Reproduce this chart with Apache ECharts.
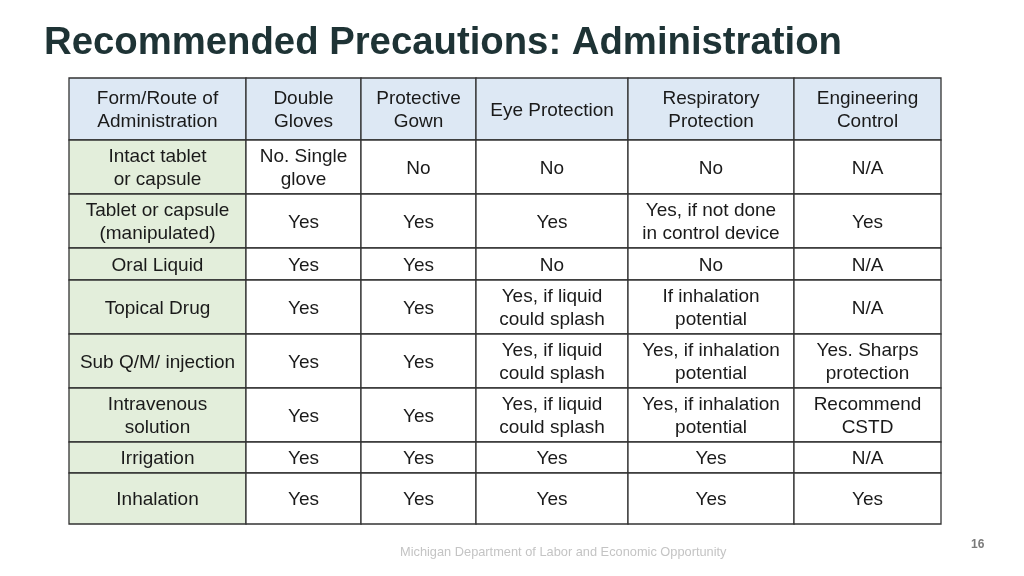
<!DOCTYPE html>
<html>
<head>
<meta charset="utf-8">
<script src="https://cdn.jsdelivr.net/npm/echarts@6/dist/echarts.min.js"></script>
<style>html,body{margin:0;padding:0;background:#fff;}#c{width:1024px;height:576px;}</style>
</head>
<body>
<div id="c"></div>
<script>
// ---- data ----
const headers = ["Form/Route of\nAdministration", "Double\nGloves", "Protective\nGown", "Eye Protection", "Respiratory\nProtection", "Engineering\nControl"];
const forms = ["Intact tablet\nor capsule", "Tablet or capsule\n(manipulated)", "Oral Liquid", "Topical Drug", "Sub Q/M/ injection", "Intravenous\nsolution", "Irrigation", "Inhalation"];
const doubleGloves = ["No. Single\nglove", "Yes", "Yes", "Yes", "Yes", "Yes", "Yes", "Yes"];
const protectiveGown = ["No", "Yes", "Yes", "Yes", "Yes", "Yes", "Yes", "Yes"];
const eyeProtection = ["No", "Yes", "No", "Yes, if liquid\ncould splash", "Yes, if liquid\ncould splash", "Yes, if liquid\ncould splash", "Yes", "Yes"];
const respiratory = ["No", "Yes, if not done\nin control device", "No", "If inhalation\npotential", "Yes, if inhalation\npotential", "Yes, if inhalation\npotential", "Yes", "Yes"];
const engineering = ["N/A", "Yes", "N/A", "N/A", "Yes. Sharps\nprotection", "Recommend\nCSTD", "N/A", "Yes"];

// ---- layout (sizes, not data) ----
const colWidths = [177, 115, 115, 152, 166, 147];
const rowHeights = [62, 54, 54, 32, 54, 54, 54, 31, 51];

const colEdges = [0]; colWidths.forEach(w => colEdges.push(colEdges[colEdges.length - 1] + w));
const rowEdges = [0]; rowHeights.forEach(h => rowEdges.push(rowEdges[rowEdges.length - 1] + h));
const totalW = colEdges[colEdges.length - 1];
const totalH = rowEdges[rowEdges.length - 1];

const columns = [forms, doubleGloves, protectiveGown, eyeProtection, respiratory, engineering];
const cells = [];
headers.forEach((h, c) => cells.push([c, 0, h]));
for (let r = 0; r < forms.length; r++) {
  for (let c = 0; c < columns.length; c++) cells.push([c, r + 1, columns[c][r]]);
}

const chart = echarts.init(document.getElementById('c'), null, { renderer: 'canvas' });
chart.setOption({
  backgroundColor: '#ffffff',
  animation: false,
  title: [{
    text: 'Recommended Precautions: Administration',
    left: 39, top: 19,
    textStyle: { fontFamily: 'Liberation Sans, Arial, sans-serif', fontWeight: 'bold', fontSize: 38.3, color: '#1e3335' }
  }, {
    text: 'Michigan Department of Labor and Economic Opportunity',
    left: 395, top: 541,
    textStyle: { fontFamily: 'Liberation Sans, Arial, sans-serif', fontWeight: 'normal', fontSize: 12.8, color: '#c4c4c4' }
  }, {
    text: '16',
    left: 966, top: 534,
    textStyle: { fontFamily: 'Liberation Sans, Arial, sans-serif', fontWeight: 'bold', fontSize: 12, color: '#7a7a7a' }
  }],
  grid: { left: 69, top: 78, width: totalW, height: totalH, containLabel: false },
  xAxis: { type: 'value', min: 0, max: totalW, show: false },
  yAxis: { type: 'value', min: 0, max: totalH, inverse: true, show: false },
  series: [{
    type: 'custom',
    coordinateSystem: 'cartesian2d',
    data: cells,
    encode: { x: 0, y: 1 },
    renderItem: function (params, api) {
      const c = api.value(0), r = api.value(1);
      const text = cells[params.dataIndex][2];
      const p0 = api.coord([colEdges[c], rowEdges[r]]);
      const p1 = api.coord([colEdges[c + 1], rowEdges[r + 1]]);
      const x = p0[0], y = p0[1], w = p1[0] - p0[0], h = p1[1] - p0[1];
      let fill = '#ffffff';
      if (r === 0) fill = '#dde8f4';
      else if (c === 0) fill = '#e3eedb';
      return {
        type: 'group',
        children: [{
          type: 'rect',
          shape: { x: x, y: y, width: w, height: h },
          style: { fill: fill, stroke: '#333333', lineWidth: 1.3 }
        }, {
          type: 'text',
          style: {
            x: x + w / 2, y: y + h / 2 + 1.5,
            text: text,
            align: 'center', verticalAlign: 'middle',
            fontFamily: 'Liberation Sans, Arial, sans-serif',
            fontSize: 19, lineHeight: 23,
            fill: '#1a1a1a'
          }
        }]
      };
    }
  }]
});
</script>
</body>
</html>
